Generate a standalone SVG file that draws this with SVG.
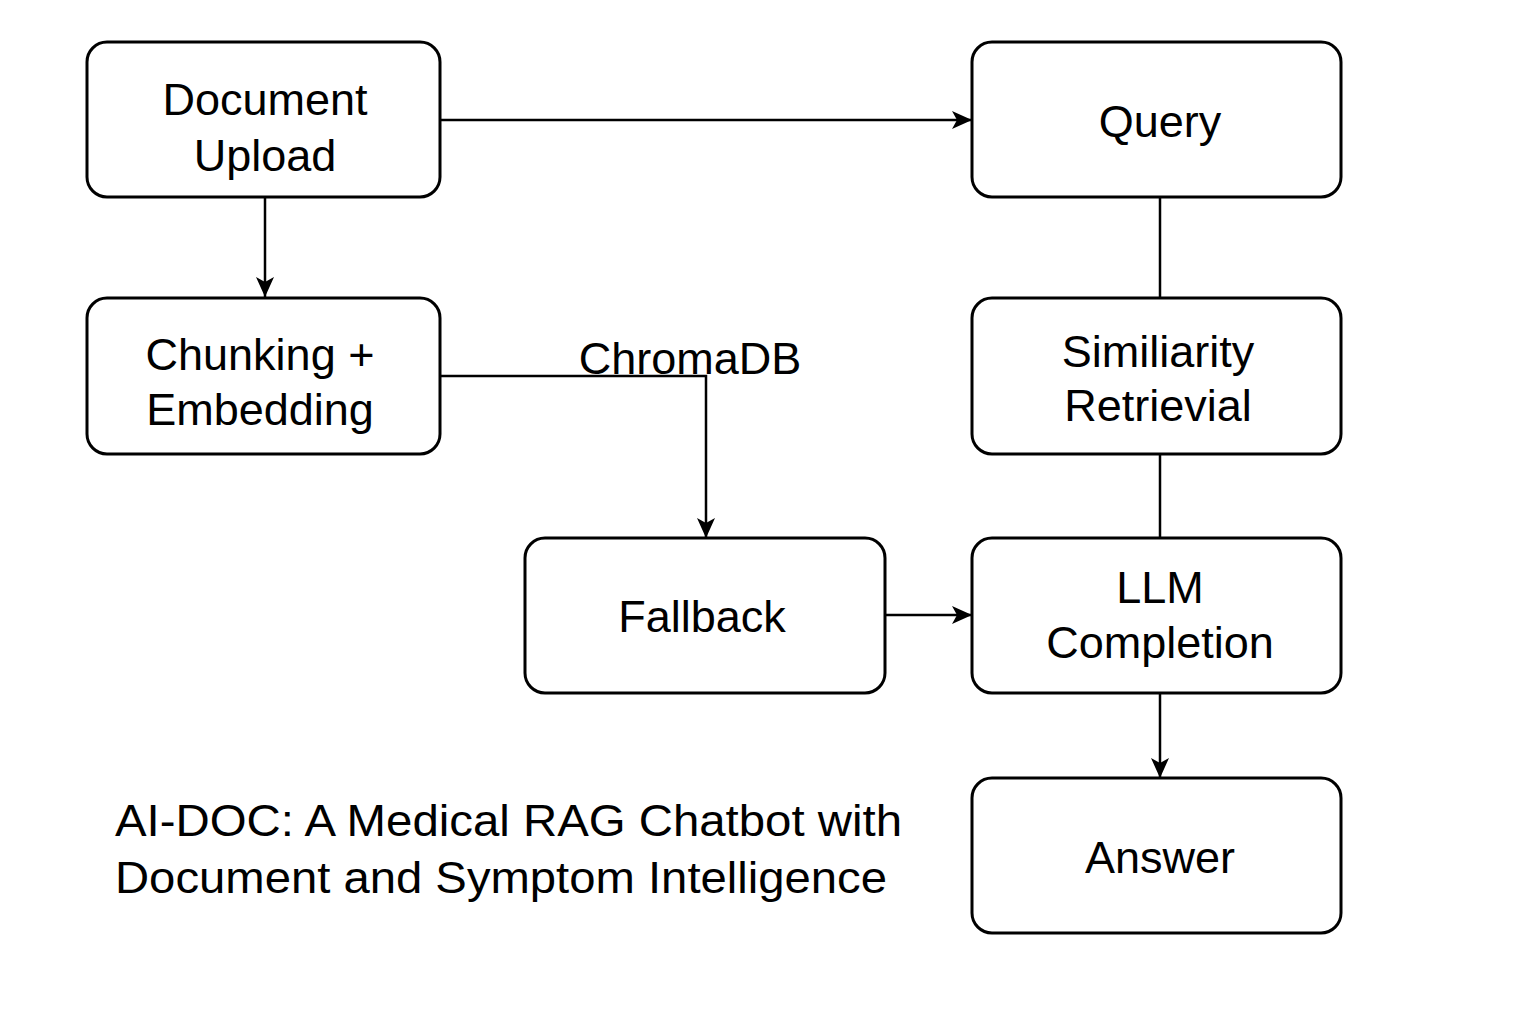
<svg xmlns="http://www.w3.org/2000/svg" width="1536" height="1024" viewBox="0 0 1536 1024">
  <defs>
    <style>
      .box { fill: #ffffff; stroke: #000000; stroke-width: 3; }
      .lbl { font-family: "Liberation Sans", Arial, Helvetica, sans-serif; font-size: 45px; fill: #000000; text-anchor: middle; }
      .title { font-family: "Liberation Sans", Arial, Helvetica, sans-serif; font-size: 45px; fill: #000000; }
      .conn { fill: none; stroke: #000000; stroke-width: 2.5; }
    </style>
    <marker id="arrow" markerUnits="userSpaceOnUse" markerWidth="22" markerHeight="20" refX="20" refY="9" orient="auto">
      <path d="M0,0 L20,9 L0,18 L5,9 Z" fill="#000000"/>
    </marker>
  </defs>
  <rect width="1536" height="1024" fill="#ffffff"/>

  <g id="connectors">
    <path class="conn" d="M440,120 L972,120" marker-end="url(#arrow)"/>
    <path class="conn" d="M265,197 L265,297" marker-end="url(#arrow)"/>
    <path class="conn" d="M440,376 L706,376 L706,538" marker-end="url(#arrow)"/>
    <path class="conn" d="M1160,197 L1160,298"/>
    <path class="conn" d="M1160,454 L1160,538"/>
    <path class="conn" d="M885,615 L972,615" marker-end="url(#arrow)"/>
    <path class="conn" d="M1160,693 L1160,778" marker-end="url(#arrow)"/>
  </g>

  <g id="node-document-upload">
    <rect class="box" x="87" y="42" width="353" height="155" rx="20"/>
    <text class="lbl" x="265" y="115">Document</text>
    <text class="lbl" x="265" y="171">Upload</text>
  </g>

  <g id="node-chunking">
    <rect class="box" x="87" y="298" width="353" height="156" rx="20"/>
    <text class="lbl" x="260" y="370">Chunking +</text>
    <text class="lbl" x="260" y="425">Embedding</text>
  </g>

  <g id="label-chromadb">
    <text class="lbl" x="690" y="374">ChromaDB</text>
  </g>

  <g id="node-query">
    <rect class="box" x="972" y="42" width="369" height="155" rx="20"/>
    <text class="lbl" x="1160" y="137">Query</text>
  </g>

  <g id="node-similarity">
    <rect class="box" x="972" y="298" width="369" height="156" rx="20"/>
    <text class="lbl" x="1158" y="367">Similiarity</text>
    <text class="lbl" x="1158" y="421">Retrievial</text>
  </g>

  <g id="node-fallback">
    <rect class="box" x="525" y="538" width="360" height="155" rx="20"/>
    <text class="lbl" x="702" y="632">Fallback</text>
  </g>

  <g id="node-llm">
    <rect class="box" x="972" y="538" width="369" height="155" rx="20"/>
    <text class="lbl" x="1160" y="603">LLM</text>
    <text class="lbl" x="1160" y="658">Completion</text>
  </g>

  <g id="node-answer">
    <rect class="box" x="972" y="778" width="369" height="155" rx="20"/>
    <text class="lbl" x="1160" y="873">Answer</text>
  </g>

  <g id="title">
    <text class="title" x="115" y="836" textLength="787" lengthAdjust="spacingAndGlyphs">AI-DOC: A Medical RAG Chatbot with</text>
    <text class="title" x="115" y="893" textLength="772" lengthAdjust="spacingAndGlyphs">Document and Symptom Intelligence</text>
  </g>
</svg>
